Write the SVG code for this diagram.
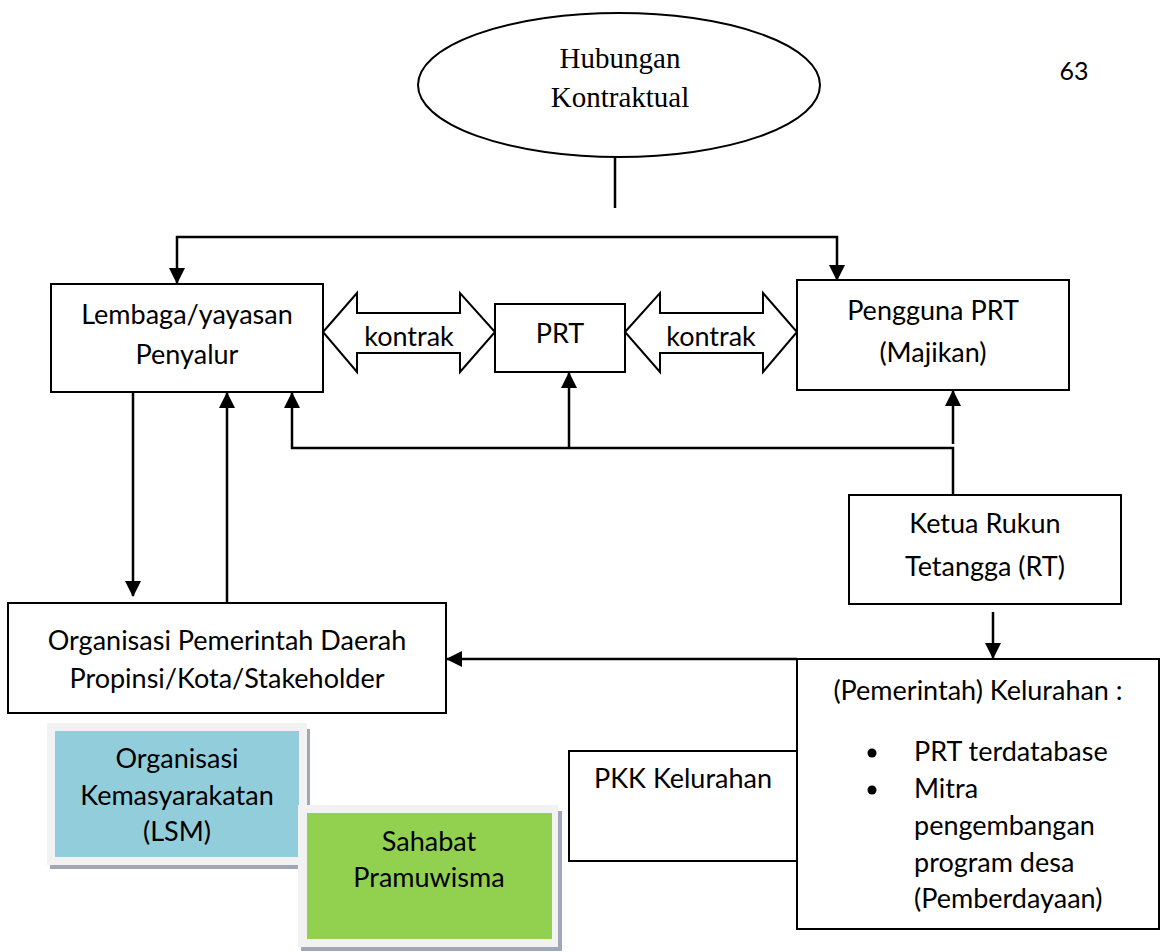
<svg xmlns="http://www.w3.org/2000/svg" width="1165" height="952" viewBox="0 0 1165 952">
<style>
.box{fill:#fff;stroke:#000;stroke-width:2}
.t{font-family:Lato,"Liberation Sans",sans-serif;font-size:27px;fill:#000;text-anchor:middle}
.tl{font-family:Lato,"Liberation Sans",sans-serif;font-size:27px;fill:#000}
.serif{font-family:"Liberation Serif",serif;font-size:29px;fill:#000;text-anchor:middle}
.c{fill:none;stroke:#000;stroke-width:2.5}
.frame{fill:#f2f2f2}
.shadow{fill:#a0a8b8}
</style>
<defs>
<marker id="ah" markerUnits="userSpaceOnUse" markerWidth="16" markerHeight="16" refX="15" refY="8" orient="auto-start-reverse">
<path d="M0,0 L16,8 L0,16 Z" fill="#000"/>
</marker>
</defs>
<rect width="1165" height="952" fill="#fff"/>
<text x="1074" y="80" class="t" style="font-size:25px">63</text>

<g id="hubungan">
<ellipse cx="619" cy="85" rx="201" ry="72" fill="#fff" stroke="#000" stroke-width="2"/>
<text x="620" y="68" class="serif">Hubungan</text>
<text x="620" y="107" class="serif">Kontraktual</text>
</g>

<g id="lembaga">
<rect x="51" y="284" width="272" height="108" class="box"/>
<text x="187" y="324" class="t">Lembaga/yayasan</text>
<text x="187" y="364" class="t">Penyalur</text>
</g>

<g id="kontrak1">
<polygon points="323,332 357,293 357,313 460,313 460,293 495,332 460,372 460,353 357,353 357,372" fill="#fff" stroke="#000" stroke-width="2"/>
<text x="409" y="346" class="t">kontrak</text>
</g>

<g id="prt">
<rect x="495" y="304" width="130" height="68" class="box"/>
<text x="560" y="343" class="t">PRT</text>
</g>

<g id="kontrak2">
<polygon points="625,332 660,293 660,313 763,313 763,293 797,332 763,372 763,353 660,353 660,372" fill="#fff" stroke="#000" stroke-width="2"/>
<text x="711" y="346" class="t">kontrak</text>
</g>

<g id="pengguna">
<rect x="797" y="280" width="272" height="110" class="box"/>
<text x="933" y="320" class="t">Pengguna PRT</text>
<text x="933" y="362" class="t">(Majikan)</text>
</g>

<g id="rt">
<rect x="849" y="495" width="272" height="109" class="box"/>
<text x="985" y="533" class="t">Ketua Rukun</text>
<text x="985" y="576" class="t">Tetangga (RT)</text>
</g>

<g id="organisasi">
<rect x="8" y="603" width="438" height="110" class="box"/>
<text x="227" y="650" class="t">Organisasi Pemerintah Daerah</text>
<text x="227" y="688" class="t">Propinsi/Kota/Stakeholder</text>
</g>

<g id="lsm">
<rect x="50" y="729" width="260" height="140" class="shadow"/>
<rect x="47" y="723" width="260" height="142" class="frame"/>
<rect x="55" y="731" width="244" height="126" fill="#92cddc"/>
<text x="177" y="768" class="t">Organisasi</text>
<text x="177" y="805" class="t">Kemasyarakatan</text>
<text x="177" y="841" class="t">(LSM)</text>
</g>

<g id="sahabat">
<rect x="301" y="811" width="261" height="140" class="shadow"/>
<rect x="298" y="805" width="260" height="142" class="frame"/>
<rect x="307" y="813" width="245" height="126" fill="#92d050"/>
<text x="429" y="851" class="t">Sahabat</text>
<text x="429" y="887" class="t">Pramuwisma</text>
</g>

<g id="pkk">
<rect x="569" y="751" width="228" height="110" class="box"/>
<text x="683" y="788" class="t">PKK Kelurahan</text>
</g>

<g id="kelurahan">
<rect x="797" y="659" width="362" height="270" class="box"/>
<text x="978" y="700" class="t">(Pemerintah) Kelurahan :</text>
<circle cx="872" cy="753" r="4.5" fill="#000"/>
<circle cx="872" cy="790" r="4.5" fill="#000"/>
<text x="914" y="761" class="tl">PRT terdatabase</text>
<text x="914" y="798" class="tl">Mitra</text>
<text x="914" y="835" class="tl">pengembangan</text>
<text x="914" y="872" class="tl">program desa</text>
<text x="914" y="908" class="tl">(Pemberdayaan)</text>
</g>

<g id="connectors">
<path class="c" d="M615 157 V208"/>
<path class="c" d="M177 283 V237 H837 V280" marker-start="url(#ah)" marker-end="url(#ah)"/>
<path class="c" d="M133 391 V596" marker-end="url(#ah)"/>
<path class="c" d="M227 603 V393" marker-end="url(#ah)"/>
<path class="c" d="M953 495 V448 H292 V393" marker-end="url(#ah)"/>
<path class="c" d="M569 448 V373" marker-end="url(#ah)"/>
<path class="c" d="M953 444 V391" marker-end="url(#ah)"/>
<path class="c" d="M993 612 V658" marker-end="url(#ah)"/>
<path class="c" d="M797 659 H447" marker-end="url(#ah)"/>
</g>
</svg>
